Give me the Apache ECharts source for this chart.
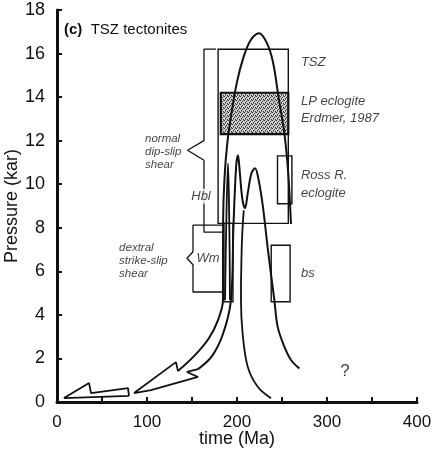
<!DOCTYPE html>
<html>
<head>
<meta charset="utf-8">
<script src="https://cdn.jsdelivr.net/npm/echarts@6/dist/echarts.min.js"></script>
<style>
  html, body { margin: 0; padding: 0; background: #fff; }
  #chart { width: 441px; height: 466px; }
</style>
</head>
<body>
<div id="chart"></div>
<script>
// ---- Axis ranges and tick labels ----
const timeTicks = [0, 100, 200, 300, 400];
const pressureTicks = [0, 2, 4, 6, 8, 10, 12, 14, 16, 18];

// ---- P-T-t paths: [time (Ma), pressure (kbar)] ----
// Outer path: broad high-pressure loop, descending into the curved arrow
const outerPath = [
  [260, 8.17], [258, 9.8], [256, 11.0], [252.2, 12.48], [246.7, 13.85], [240, 15.6],
  [233, 16.5], [224.4, 16.93], [215, 16.6], [207, 15.8], [200, 14.7], [194, 13.3],
  [189, 11.8], [186, 10.2], [184.6, 8.4], [184.4, 6.0], [184.4, 4.68],
  [178.9, 3.76], [168.9, 2.94], [154.4, 2.2], [134.4, 1.42]
];
// Zig-zag arrow head closing the curved band
const arrowHead = [
  [134.4, 1.42], [132.2, 1.83], [85.6, 0.41], [104.4, 0.55], [156.7, 1.15],
  [144.4, 1.38], [156.7, 1.51]
];
// Inner path: double-peaked path rising out of the band
const innerPath = [
  [156.7, 1.51], [172.2, 2.11], [184.4, 3.12], [193.3, 4.68], [196, 8.0], [199, 10.8],
  [201.1, 11.33], [203, 10.6], [206, 9.3], [208.9, 8.9], [212, 9.6], [216, 10.5],
  [220, 10.73], [224, 10.2], [228.9, 8.94], [234.4, 6.97], [241.5, 4.68],
  [245.2, 3.45], [252.6, 2.54], [260, 1.93], [269.3, 1.54]
];
// Branch dropping from the trough to the time axis
const dropPath = [
  [207.5, 8.8], [205.6, 7.5], [204.6, 5.8], [204.4, 4.68], [206.3, 3.12],
  [211.9, 1.62], [223, 0.7], [237.8, 0.17]
];
// Narrow spike inside the band
const spikePath = [
  [186.7, 4.68], [188, 8.0], [190, 10.96], [191.5, 8.0], [192.2, 4.68]
];
// Flat arrow near the origin
const flatArrow = [
  [80, 0.28], [7.8, 0.18], [35.6, 0.87], [37.8, 0.41], [78.9, 0.64], [80, 0.28]
];

// ---- Brackets ----
const hblBracket = [
  [176.7, 16.2], [163.3, 16.2], [163.3, 12.0], [145, 11.56], [163.3, 11.1],
  [163.3, 7.8], [184.4, 7.8]
];
const wmBracket = [
  [184.4, 8.12], [151.1, 8.12], [151.1, 6.9], [144.4, 6.6], [151.1, 6.3],
  [151.1, 5.05], [184.4, 5.05]
];

// ---- Boxes: [tMin, pMin, tMax, pMax] ----
const boxNames = ['TSZ', 'LP eclogite', 'Ross R. eclogite', 'bs', 'Wm'];
const boxExtents = [
  [179, 8.2, 257, 16.2],
  [182, 12.3, 257, 14.2],
  [245, 9.1, 261, 11.3],
  [238, 4.6, 259, 7.2],
  [185.5, 4.6, 195.5, 8.2]
];
const boxShaded = [false, true, false, false, false];

// ---- Annotations: text and anchor [time, pressure] ----
const rightNotes = ['TSZ', 'LP eclogite', 'Erdmer, 1987', 'Ross R.', 'eclogite', 'bs'];
const rightNoteAt = [[271, 15.6], [271, 13.8], [271, 13.0], [271, 10.4], [271, 9.6], [271, 5.9]];
const leftNotes = ['normal', 'dip-slip', 'shear', 'dextral', 'strike-slip', 'shear'];
const leftNoteAt = [[97.8, 12.1], [97.8, 11.5], [97.8, 10.9], [69, 7.1], [69, 6.5], [69, 5.9]];
const bracketNotes = ['Hbl', 'Wm'];
const bracketNoteAt = [[160, 9.45], [167.8, 6.6]];
const queryNote = ['?'];
const queryNoteAt = [[320, 1.4]];

// Stippled fill for the shaded eclogite field
function stipple() {
  const c = document.createElement('canvas');
  c.width = 4; c.height = 4;
  const g = c.getContext('2d');
  g.fillStyle = '#d0d0d0';
  g.fillRect(0, 0, 4, 4);
  g.fillStyle = '#333';
  g.fillRect(0, 0, 1, 1);
  g.fillRect(2, 1, 1, 1);
  g.fillRect(1, 2, 1, 1);
  g.fillRect(3, 3, 1, 1);
  g.fillStyle = '#777';
  g.fillRect(3, 0, 1, 1);
  g.fillRect(1, 3, 1, 1);
  return c;
}
const stipplePattern = { image: stipple(), repeat: 'repeat' };

const FONT = '"Liberation Sans", Arial, sans-serif';
const INK = '#111';

function pathSeries(data, smooth, width) {
  return {
    type: 'line', data: data, smooth: smooth, showSymbol: false, symbol: 'none',
    lineStyle: { color: INK, width: width }, z: 3, silent: true, animation: false
  };
}

function noteSeries(texts, anchors, style) {
  return {
    type: 'scatter', symbolSize: 0, silent: true, z: 5, animation: false,
    data: texts.map((t, i) => ({ value: anchors[i], name: t })),
    label: Object.assign({
      show: true, position: [0, 0], formatter: '{b}', fontFamily: FONT, color: INK,
      verticalAlign: 'middle'
    }, style)
  };
}

const chart = echarts.init(document.getElementById('chart'), null, { renderer: 'canvas' });

chart.setOption({
  backgroundColor: '#fff',
  animation: false,
  title: {
    text: '{b|(c)}  TSZ tectonites',
    left: 59, top: 17,
    textStyle: {
      fontFamily: FONT, fontSize: 15, fontWeight: 'normal', color: INK,
      rich: { b: { fontFamily: FONT, fontSize: 15, fontWeight: 'bold', color: INK } }
    }
  },
  grid: { left: 57, right: 24, top: 10, bottom: 64, containLabel: false, outerBoundsMode: 'none' },
  xAxis: [{
    type: 'value', min: 0, max: 400, interval: 50,
    name: 'time (Ma)', nameLocation: 'middle', nameGap: 28, nameMoveOverlap: false,
    nameTextStyle: { fontFamily: FONT, fontSize: 18, color: INK },
    axisLine: { lineStyle: { color: INK, width: 3 } },
    axisTick: { inside: true, length: 5, lineStyle: { color: INK, width: 2 } },
    axisLabel: {
      fontFamily: FONT, fontSize: 17, color: INK, margin: 12,
      formatter: v => (timeTicks.indexOf(v) >= 0 ? String(v) : '')
    },
    splitLine: { show: false }
  }, {
    type: 'value', min: 0, max: 400, position: 'top',
    axisLine: { show: true, lineStyle: { color: INK, width: 1.5 } },
    axisTick: { show: false }, axisLabel: { show: false }, splitLine: { show: false }
  }],
  yAxis: [{
    type: 'value', min: 0, max: 18, interval: 2,
    name: 'Pressure (kar)', nameLocation: 'middle', nameGap: 36, nameRotate: 90,
    nameMoveOverlap: false,
    nameTextStyle: { fontFamily: FONT, fontSize: 18, color: INK },
    axisLine: { show: true, lineStyle: { color: INK, width: 3 } },
    axisTick: { show: true, inside: true, length: 5, lineStyle: { color: INK, width: 2 } },
    axisLabel: {
      fontFamily: FONT, fontSize: 18, color: INK, margin: 12,
      formatter: v => (pressureTicks.indexOf(v) >= 0 ? String(v) : '')
    },
    splitLine: { show: false }
  }, {
    type: 'value', min: 0, max: 18, position: 'right',
    axisLine: { show: true, lineStyle: { color: INK, width: 1.5 } },
    axisTick: { show: false }, axisLabel: { show: false }, splitLine: { show: false }
  }],
  series: [
    {
      type: 'custom', silent: true, z: 1, animation: false,
      data: boxExtents.map((b, i) => ({ value: b.concat([boxShaded[i] ? 1 : 0]), name: boxNames[i] })),
      renderItem: function (params, api) {
        const p0 = api.coord([api.value(0), api.value(3)]);
        const p1 = api.coord([api.value(2), api.value(1)]);
        const shaded = api.value(4) === 1;
        return {
          type: 'rect',
          shape: { x: p0[0], y: p0[1], width: p1[0] - p0[0], height: p1[1] - p0[1] },
          style: {
            fill: shaded ? stipplePattern : 'none',
            stroke: INK, lineWidth: shaded ? 2.2 : 1.4
          }
        };
      }
    },
    pathSeries(outerPath, 0.35, 2),
    pathSeries(arrowHead, false, 1.8),
    pathSeries(innerPath, 0.35, 2),
    pathSeries(dropPath, 0.35, 1.8),
    pathSeries(spikePath, 0.4, 1.8),
    pathSeries(flatArrow, false, 1.8),
    pathSeries(hblBracket, false, 1.3),
    pathSeries(wmBracket, false, 1.3),
    noteSeries(rightNotes, rightNoteAt, { fontSize: 13, fontStyle: 'italic', align: 'left' }),
    noteSeries(leftNotes, leftNoteAt, { fontSize: 11.5, fontStyle: 'italic', align: 'left' }),
    noteSeries(bracketNotes, bracketNoteAt, {
      fontSize: 13, fontStyle: 'italic', align: 'center',
      backgroundColor: '#fff', padding: [1, 1]
    }),
    noteSeries(queryNote, queryNoteAt, { fontSize: 17, align: 'center' })
  ]
});
</script>
</body>
</html>
